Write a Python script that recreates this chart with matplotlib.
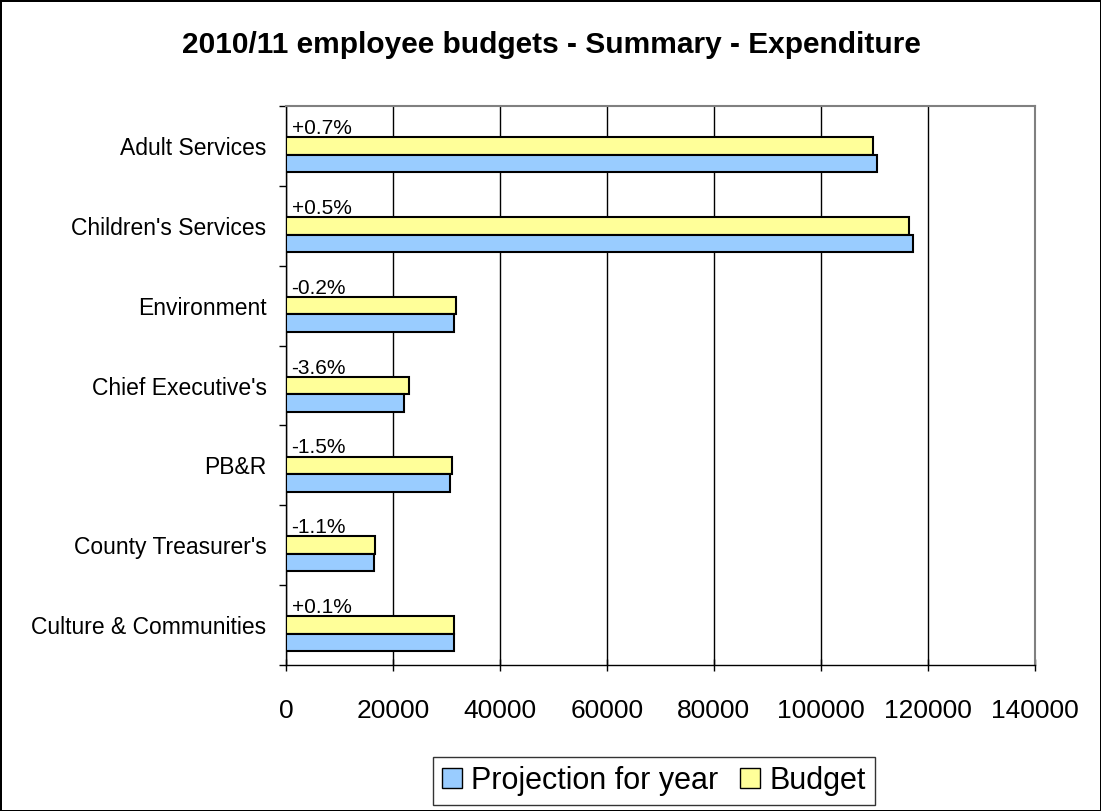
import matplotlib.pyplot as plt
import matplotlib.patches as mpatches
import numpy as np

plt.rcParams['font.family'] = ['Liberation Sans', 'DejaVu Sans']

# data
categories = ["Adult Services", "Children's Services", "Environment",
              "Chief Executive's", "PB&R", "County Treasurer's",
              "Culture & Communities"]
budget = [109830, 116500, 31700, 22920, 31030, 16560, 31330]
projection = [110525, 117200, 31400, 22150, 30600, 16380, 31360]
changes = ["+0.7%", "+0.5%", "-0.2%", "-3.6%", "-1.5%", "-1.1%", "+0.1%"]
xticks = [0, 20000, 40000, 60000, 80000, 100000, 120000, 140000]

blue = '#99CCFF'
yellow = '#FFFF99'

fig = plt.figure(figsize=(11.01, 8.11), dpi=100)
ax = fig.add_axes([0.2598, 0.180, 0.680, 0.6893])

y = np.arange(len(categories))
h = 0.219  # each bar is ~17.5px of an 80px category slot

ax.barh(y, budget, height=h, color=yellow, edgecolor='black', linewidth=1.5,
        label='Budget', zorder=3)
ax.barh(y + h, projection, height=h, color=blue, edgecolor='black',
        linewidth=1.5, label='Projection for year', zorder=3)

# percentage change labels sit in the empty slot above each pair
for i, txt in enumerate(changes):
    ax.annotate(txt, xy=(0, i - h), xytext=(4, 0), textcoords='offset points',
                va='center', ha='left', fontsize=15)

ax.set_xlim(0, 140000)
ax.set_ylim(len(categories) - 0.5, -0.5)
ax.set_xticks(xticks)
ax.set_xticklabels([str(v) for v in xticks], fontsize=19)
ax.set_yticks(y)
ax.set_yticklabels(categories, fontsize=16.5)
ax.set_yticks(np.arange(len(categories) + 1) - 0.5, minor=True)

ax.tick_params(axis='y', which='major', length=0, pad=14)
ax.tick_params(axis='y', which='minor', length=5, width=1, direction='out')
ax.tick_params(axis='x', length=9, width=1, direction='inout', pad=20)

ax.xaxis.grid(True, color='black', linewidth=1, zorder=0)
ax.set_axisbelow(True)
for side in ['top', 'right']:
    ax.spines[side].set_color('#808080')
    ax.spines[side].set_linewidth(1.5)
for side in ['left', 'bottom']:
    ax.spines[side].set_color('black')
    ax.spines[side].set_linewidth(1)

fig.text(0.5005, 1 - 45 / 811, '2010/11 employee budgets - Summary - Expenditure',
         ha='center', va='center', fontsize=21.5, fontweight='bold')

handles = [mpatches.Patch(facecolor=blue, edgecolor='black', label='Projection for year'),
           mpatches.Patch(facecolor=yellow, edgecolor='black', label='Budget')]
leg = fig.legend(handles=handles, loc='center', bbox_to_anchor=(654 / 1101, 1 - 781 / 811),
                 ncol=2, fontsize=22, frameon=True, fancybox=False,
                 handlelength=0.65, handleheight=0.65, handletextpad=0.3,
                 columnspacing=0.7, borderpad=0.3)
leg.get_frame().set_edgecolor('black')
leg.get_frame().set_linewidth(1)

fig.patch.set_edgecolor('black')
fig.patch.set_linewidth(2)

fig.savefig('out.png', dpi=100)
